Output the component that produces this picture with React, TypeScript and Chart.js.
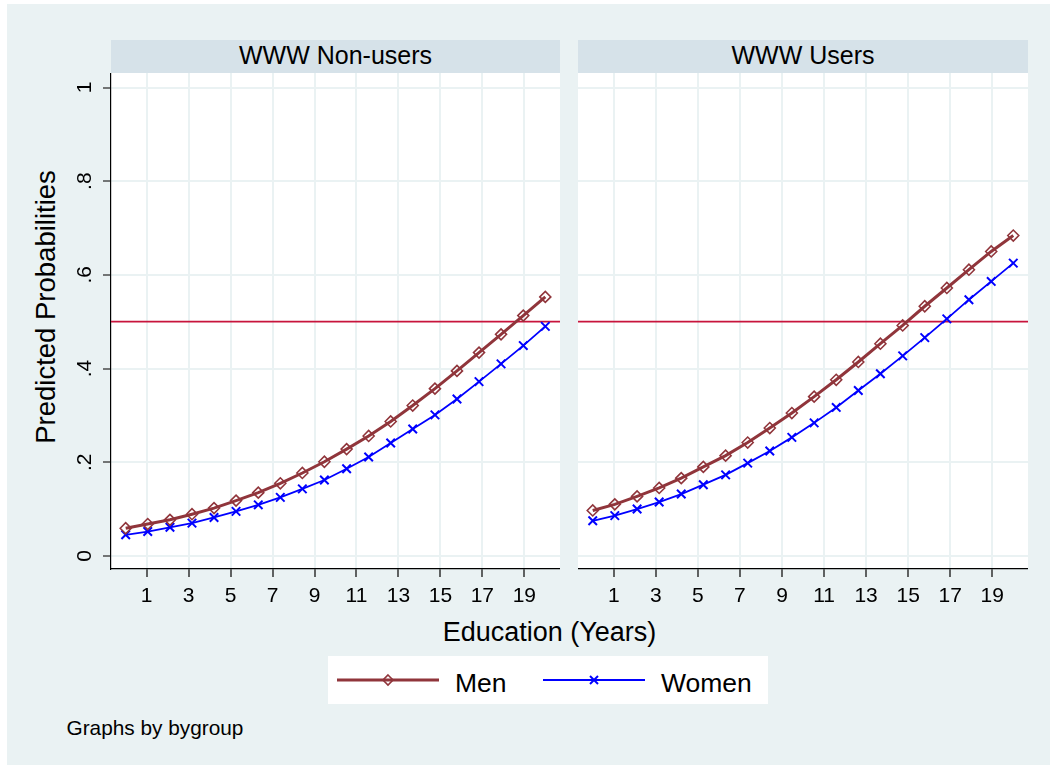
import React, { useEffect, useRef } from "react";
import { Chart, registerables } from "chart.js";

Chart.register(...registerables);

// ---------- data ----------
const EDU_YEARS = [0, 1.05, 2.11, 3.16, 4.21, 5.26, 6.32, 7.37, 8.42, 9.47, 10.53, 11.58, 12.63, 13.68, 14.74, 15.79, 16.84, 17.89, 18.95, 20];
const MEN_NONUSERS = [0.059, 0.068, 0.077, 0.089, 0.102, 0.118, 0.135, 0.155, 0.177, 0.201, 0.228, 0.256, 0.287, 0.321, 0.357, 0.395, 0.434, 0.473, 0.513, 0.553];
const WOMEN_NONUSERS = [0.045, 0.052, 0.061, 0.070, 0.082, 0.095, 0.109, 0.125, 0.143, 0.162, 0.186, 0.211, 0.241, 0.271, 0.301, 0.335, 0.372, 0.410, 0.449, 0.490];
const MEN_USERS = [0.097, 0.110, 0.127, 0.145, 0.166, 0.190, 0.214, 0.242, 0.273, 0.305, 0.340, 0.376, 0.414, 0.453, 0.492, 0.533, 0.572, 0.611, 0.650, 0.684];
const WOMEN_USERS = [0.075, 0.086, 0.100, 0.115, 0.132, 0.152, 0.173, 0.198, 0.224, 0.253, 0.284, 0.317, 0.353, 0.389, 0.427, 0.466, 0.506, 0.547, 0.586, 0.625];
const X_TICKS = [1, 3, 5, 7, 9, 11, 13, 15, 17, 19];
const Y_TICKS = [0, 0.2, 0.4, 0.6, 0.8, 1];
const Y_TICK_LABELS = ["0", ".2", ".4", ".6", ".8", "1"];
const PANEL_TITLES = ["WWW Non-users", "WWW Users"];
const SERIES_NAMES = ["Men", "Women"];
const REF_LINE = 0.5;
const X_TITLE = "Education (Years)";
const Y_TITLE = "Predicted Probabilities";
const NOTE = "Graphs by bygroup";

// ---------- style ----------
const FONT = '"Liberation Sans", Arial, Helvetica, sans-serif';
const BG = "#eaf2f3";
const STRIP = "#d6e2e9";
const MEN_COLOR = "#90353b";
const WOMEN_COLOR = "#0000ff";
const REF_COLOR = "#c8143c";
const OX = 7;
const OY = 4;

const plotBg = {
  id: "plotBg",
  beforeDraw(chart: any) {
    const { ctx, chartArea } = chart;
    ctx.save();
    ctx.fillStyle = "#ffffff";
    ctx.fillRect(chartArea.left, chartArea.top, chartArea.right - chartArea.left, chartArea.bottom - chartArea.top);
    ctx.restore();
  },
};

const refLine = {
  id: "refLine",
  beforeDatasetsDraw(chart: any) {
    const { ctx, chartArea, scales } = chart;
    const y = scales.y.getPixelForValue(REF_LINE);
    ctx.save();
    ctx.strokeStyle = REF_COLOR;
    ctx.lineWidth = 1.8;
    ctx.beginPath();
    ctx.moveTo(chartArea.left, y);
    ctx.lineTo(chartArea.right, y);
    ctx.stroke();
    ctx.restore();
  },
};

function Panel(props: { men: number[]; women: number[]; showY: boolean; left: number; width: number }) {
  const ref = useRef<HTMLCanvasElement>(null);
  const { men, women, showY, left, width } = props;
  const height = 542;
  useEffect(() => {
    const chart = new Chart(ref.current as HTMLCanvasElement, {
      type: "line",
      data: {
        datasets: [
          {
            label: SERIES_NAMES[0],
            data: EDU_YEARS.map((x, i) => ({ x, y: men[i] })),
            borderColor: MEN_COLOR,
            borderWidth: 3,
            pointStyle: "rectRot",
            pointRadius: 5.5,
            pointBorderWidth: 1.6,
            pointBorderColor: MEN_COLOR,
            pointBackgroundColor: "rgba(255,255,255,0)",
            tension: 0,
          },
          {
            label: SERIES_NAMES[1],
            data: EDU_YEARS.map((x, i) => ({ x, y: women[i] })),
            borderColor: WOMEN_COLOR,
            borderWidth: 1.8,
            pointStyle: "crossRot",
            pointRadius: 6,
            pointBorderWidth: 2,
            pointBorderColor: WOMEN_COLOR,
            pointBackgroundColor: WOMEN_COLOR,
            tension: 0,
          },
        ],
      },
      options: {
        animation: false,
        responsive: false,
        maintainAspectRatio: false,
        layout: { padding: 0, autoPadding: false },
        plugins: { legend: { display: false }, tooltip: { enabled: false }, title: { display: false } },
        scales: {
          x: {
            type: "linear",
            min: -0.7,
            max: 20.7,
            afterBuildTicks: (s: any) => {
              s.ticks = X_TICKS.map((v) => ({ value: v }));
            },
            afterFit: (s: any) => {
              s.height = 46;
              s.paddingLeft = 0;
              s.paddingRight = 0;
            },
            grid: { color: BG, lineWidth: 2, tickColor: "#000", tickLength: 8, tickWidth: 1.2 },
            border: { display: true, color: "#000", width: 1.2 },
            ticks: {
              font: { family: FONT, size: 21 },
              color: "#000",
              padding: 7,
              maxRotation: 0,
              autoSkip: false,
              callback: (v: any) => String(v),
            },
          },
          y: {
            type: "linear",
            min: -0.028,
            max: 1.031,
            afterBuildTicks: (s: any) => {
              s.ticks = Y_TICKS.map((v) => ({ value: v }));
            },
            afterFit: (s: any) => {
              s.width = showY ? 71 : 0;
              s.paddingTop = 0;
              s.paddingBottom = 0;
            },
            grid: { color: BG, lineWidth: 2, drawTicks: showY, tickColor: "#222", tickLength: 8, tickWidth: 1.2 },
            border: { display: showY, color: "#000", width: 1.2 },
            ticks: {
              display: showY,
              font: { family: FONT, size: 21 },
              color: "#000",
              padding: 9,
              minRotation: 90,
              maxRotation: 90,
              crossAlign: "center",
              autoSkip: false,
              callback: (v: any) => {
                const i = Y_TICKS.findIndex((t) => Math.abs(t - v) < 1e-9);
                return i >= 0 ? Y_TICK_LABELS[i] : "";
              },
            },
          },
        },
      } as any,
      plugins: [plotBg, refLine],
    });
    return () => chart.destroy();
  }, []);
  return (
    <canvas
      ref={ref}
      width={width}
      height={height}
      style={{ position: "absolute", left: left - OX, top: 73 - OY, width, height }}
    />
  );
}

export default function App() {
  const sx = (x: number) => x - OX;
  const sy = (y: number) => y - OY;
  return (
    <div
      style={{
        position: "absolute",
        left: OX,
        top: OY,
        width: 1050 - OX,
        height: 765 - OY,
        background: BG,
        overflow: "hidden",
        fontFamily: FONT,
      }}
    >
      <svg width={1050 - OX} height={765 - OY} style={{ position: "absolute", left: 0, top: 0 }}>
        {/* strips */}
        <rect x={sx(111)} y={sy(40)} width={449} height={33.3} fill={STRIP} />
        <rect x={sx(578)} y={sy(40)} width={450} height={33.3} fill={STRIP} />
        <text x={sx(335.5)} y={sy(64)} textAnchor="middle" fontSize={25} fontFamily={FONT} fill="#000">
          {PANEL_TITLES[0]}
        </text>
        <text x={sx(803)} y={sy(64)} textAnchor="middle" fontSize={25} fontFamily={FONT} fill="#000">
          {PANEL_TITLES[1]}
        </text>
        {/* y title */}
        <text
          transform={`translate(${sx(55)},${sy(307)}) rotate(-90)`}
          textAnchor="middle"
          fontSize={27.5}
          fontFamily={FONT}
          fill="#000"
        >
          {Y_TITLE}
        </text>
        {/* x title */}
        <text x={sx(549.5)} y={sy(641)} textAnchor="middle" fontSize={27} fontFamily={FONT} fill="#000">
          {X_TITLE}
        </text>
        {/* legend */}
        <rect x={sx(328)} y={sy(656)} width={440} height={48} fill="#ffffff" />
        <line x1={sx(337)} y1={sy(680)} x2={sx(439)} y2={sy(680)} stroke={MEN_COLOR} strokeWidth={3} />
        <polygon
          points={`${sx(388)},${sy(675)} ${sx(393)},${sy(680)} ${sx(388)},${sy(685)} ${sx(383)},${sy(680)}`}
          fill="none"
          stroke={MEN_COLOR}
          strokeWidth={1.6}
        />
        <text x={sx(455)} y={sy(691.5)} fontSize={26.5} fontFamily={FONT} fill="#000">
          {SERIES_NAMES[0]}
        </text>
        <line x1={sx(543)} y1={sy(680)} x2={sx(645)} y2={sy(680)} stroke={WOMEN_COLOR} strokeWidth={1.8} />
        <line x1={sx(590)} y1={sy(676)} x2={sx(598)} y2={sy(684)} stroke={WOMEN_COLOR} strokeWidth={2} />
        <line x1={sx(590)} y1={sy(684)} x2={sx(598)} y2={sy(676)} stroke={WOMEN_COLOR} strokeWidth={2} />
        <text x={sx(661)} y={sy(691.5)} fontSize={26.5} fontFamily={FONT} fill="#000">
          {SERIES_NAMES[1]}
        </text>
        {/* note */}
        <text x={sx(66.5)} y={sy(735)} fontSize={20.8} fontFamily={FONT} fill="#000">
          {NOTE}
        </text>
      </svg>
      <Panel men={MEN_NONUSERS} women={WOMEN_NONUSERS} showY={true} left={40} width={520} />
      <Panel men={MEN_USERS} women={WOMEN_USERS} showY={false} left={578} width={450} />
    </div>
  );
}
